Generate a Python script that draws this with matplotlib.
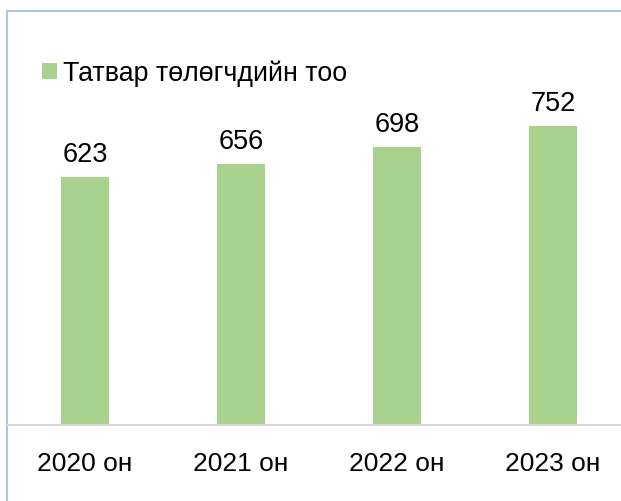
import matplotlib.pyplot as plt
from matplotlib.patches import Patch, Rectangle
from matplotlib.lines import Line2D

plt.rcParams['font.family'] = ['Liberation Sans', 'DejaVu Sans']

# data
years = ['2020 он', '2021 он', '2022 он', '2023 он']
taxpayers = [623, 656, 698, 752]
series_name = 'Татвар төлөгчдийн тоо'

bar_color = '#A9D18E'
W, H = 621, 502

fig = plt.figure(figsize=(W / 100, H / 100), dpi=100)

# outer chart frame (only left and top edges visible in the crop)
fig.add_artist(Rectangle((7 / W, -0.1), 1.2, 1 - 12 / H + 0.1, transform=fig.transFigure,
                         fill=False, edgecolor='#9DC3E6', linewidth=1.3))

ax_left, ax_right = 7 / W, 631 / W
ax_bottom = (H - 426) / H
ax_height = 900 * 0.398 / H
ax = fig.add_axes([ax_left, ax_bottom, ax_right - ax_left, ax_height])

x = range(len(years))
bars = ax.bar(x, taxpayers, width=0.31, color=bar_color)
ax.set_xlim(-0.5, 3.5)
ax.set_ylim(0, 900)

for b, v in zip(bars, taxpayers):
    ax.annotate(str(v), (b.get_x() + b.get_width() / 2, v), xytext=(0, 7),
                textcoords='offset points', ha='center', va='bottom', fontsize=19.5)

ax.set_xticks(list(x))
ax.set_xticklabels(years, fontsize=19)
ax.tick_params(axis='x', length=0, pad=19)
ax.set_yticks([])
for s in ['top', 'right', 'left', 'bottom']:
    ax.spines[s].set_visible(False)
ax.patch.set_alpha(0)

# axis baseline running across the whole frame
fig.add_artist(Line2D([7 / W, 1.0], [ax_bottom, ax_bottom], transform=fig.transFigure,
                      color='#D9D9D9', linewidth=1.5))

fig.legend(handles=[Patch(facecolor=bar_color, label=series_name)], loc='center left',
           bbox_to_anchor=(42 / W, 1 - 74 / H), frameon=False, fontsize=19.3,
           handlelength=0.55, handleheight=0.55, handletextpad=0.25,
           borderpad=0, borderaxespad=0)

fig.savefig('out.png', dpi=100)
